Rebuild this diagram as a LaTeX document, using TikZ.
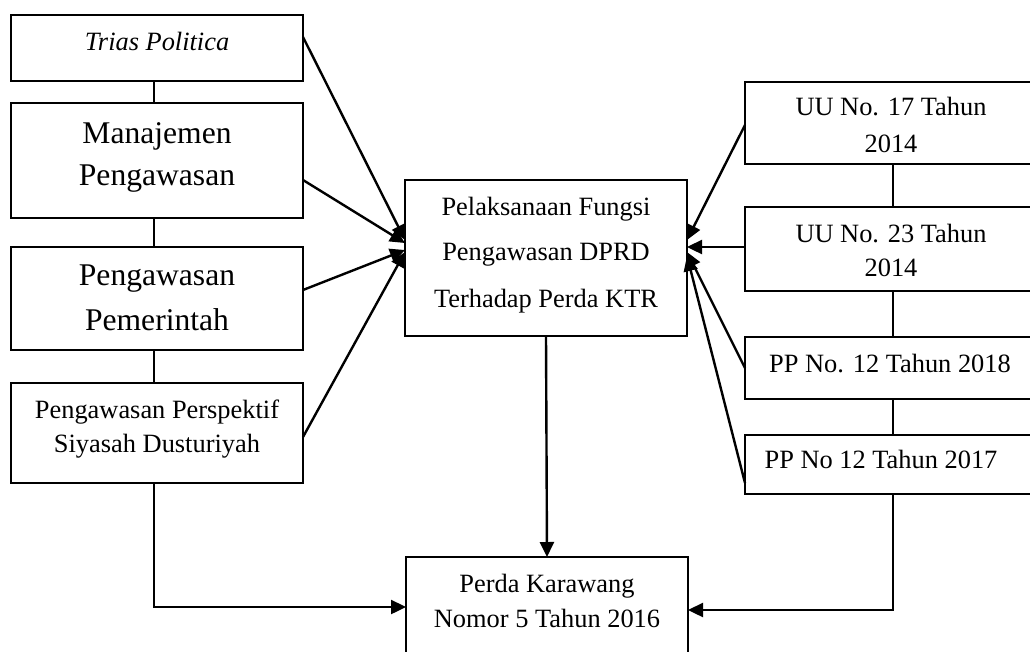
\documentclass[tikz,border=0pt]{standalone}
\usepackage{fontspec}
\setmainfont{Liberation Serif}
\usetikzlibrary{arrows.meta}
\tikzset{
  box/.style={draw=black, line width=1.9pt, fill=white, rectangle, inner sep=0pt, outer sep=0pt},
  txt/.style={inner sep=0pt, anchor=base, font=\fontsize{26.4}{30}\selectfont},
  bigtxt/.style={inner sep=0pt, anchor=base, font=\fontsize{31.6}{36}\selectfont},
  conn/.style={draw=black, line width=2.4pt},
  arr/.style={conn, -{Triangle[length=15pt,width=14pt]}}
}
\begin{document}
\begin{tikzpicture}[x=1pt,y=-1pt]
\useasboundingbox (0,0) rectangle (1030,651);
% boxes
\node[box, minimum width=292pt, minimum height=66pt] (trias) at (157,48) {};
\node[box, minimum width=292pt, minimum height=115pt] (manaj) at (157,160.5) {};
\node[box, minimum width=292pt, minimum height=103pt] (pemer) at (157,298.5) {};
\node[box, minimum width=292pt, minimum height=100pt] (persp) at (157,433) {};
\node[box, minimum width=282pt, minimum height=156pt] (center) at (546,258) {};
\node[box, minimum width=296pt, minimum height=82pt] (uu17) at (893,123) {};
\node[box, minimum width=296pt, minimum height=84pt] (uu23) at (893,249) {};
\node[box, minimum width=296pt, minimum height=62pt] (pp18) at (893,368) {};
\node[box, minimum width=296pt, minimum height=59pt] (pp17) at (893,464.5) {};
\node[box, minimum width=282pt, minimum height=100pt] (perda) at (547,607) {};
% texts
\node[txt] (trias-t) at (157,50) {\textit{Trias Politica}};
\node[bigtxt] (manaj-t1) at (157,143) {Manajemen};
\node[bigtxt] (manaj-t2) at (157,185) {Pengawasan};
\node[bigtxt] (pemer-t1) at (157,285) {Pengawasan};
\node[bigtxt] (pemer-t2) at (157,330) {Pemerintah};
\node[txt] (persp-t1) at (157,418) {Pengawasan Perspektif};
\node[txt] (persp-t2) at (157,452) {Siyasah Dusturiyah};
\node[txt] (center-t1) at (546,215) {Pelaksanaan Fungsi};
\node[txt] (center-t2) at (546,260) {Pengawasan DPRD};
\node[txt] (center-t3) at (546,307) {Terhadap Perda KTR};
\node[txt] (uu17-t1) at (891,115) {UU No. 17 Tahun};
\node[txt] (uu17-t2) at (891,152) {2014};
\node[txt] (uu23-t1) at (891,242) {UU No. 23 Tahun};
\node[txt] (uu23-t2) at (891,276) {2014};
\node[txt] (pp18-t) at (890,372) {PP No. 12 Tahun 2018};
\node[txt] (pp17-t) at (881,468) {PP No 12 Tahun 2017};
\node[txt] (perda-t1) at (547,592) {Perda Karawang};
\node[txt] (perda-t2) at (547,627) {Nomor 5 Tahun 2016};
% vertical links between stacked boxes
\draw[conn] ([xshift=-3pt]trias.south) -- ([xshift=-3pt]manaj.north);
\draw[conn] ([xshift=-3pt]manaj.south) -- ([xshift=-3pt]pemer.north);
\draw[conn] ([xshift=-3pt]pemer.south) -- ([xshift=-3pt]persp.north);
\draw[conn] (uu17.south) -- (uu23.north);
\draw[conn] (uu23.south) -- (pp18.north);
\draw[conn] (pp18.south) -- (pp17.north);
% converging arrows (left)
\draw[arr] ([yshift=11pt]trias.east) -- ([yshift=18pt]center.west);
\draw[arr] ([yshift=-19.5pt]manaj.east) -- ([yshift=15pt]center.west);
\draw[arr] ([yshift=8.5pt]pemer.east) -- ([yshift=8pt]center.west);
\draw[arr] ([yshift=-4pt]persp.east) -- ([yshift=6pt]center.west);
% converging arrows (right)
\draw[arr] ([yshift=-2pt]uu17.west) -- ([yshift=18pt]center.east);
\draw[arr] ([yshift=2pt]uu23.west) -- ([yshift=11pt]center.east);
\draw[arr] (pp18.west) -- ([yshift=6pt]center.east);
\draw[arr] ([yshift=-18.5pt]pp17.west) -- ([yshift=2pt]center.east);
% to bottom box
\draw[arr] (center.south) -- (perda.north);
\draw[arr] ([xshift=-3pt]persp.south) |- (perda.west);
\draw[arr] (pp17.south) |- ([yshift=-3pt]perda.east);
\end{tikzpicture}
\end{document}
